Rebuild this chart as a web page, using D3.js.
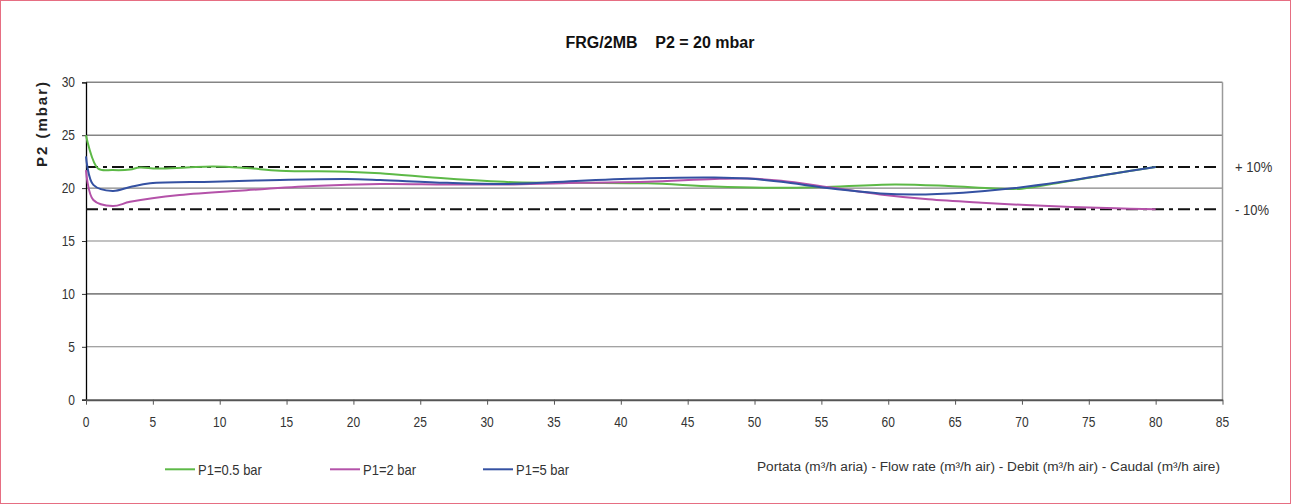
<!DOCTYPE html>
<html><head><meta charset="utf-8">
<script src="https://cdn.jsdelivr.net/npm/d3@7"></script>
<style>body{margin:0;background:#fff;} svg{display:block;font-family:"Liberation Sans",Arial,sans-serif;}</style>
</head><body><svg id="c" width="1291" height="504"></svg>
<script>
// ---- data ----
const chartTitle = "FRG/2MB    P2 = 20 mbar";
const yTitle = "P2 (mbar)";
const xTitle = "Portata (m³/h aria) - Flow rate (m³/h air) - Debit (m³/h air) - Caudal (m³/h aire)";
const xTicks = [0,5,10,15,20,25,30,35,40,45,50,55,60,65,70,75,80,85];
const yTicks = [0,5,10,15,20,25,30];
const seriesNames = ["P1=0.5 bar","P1=2 bar","P1=5 bar"];

const flow05 = [0,0.9,2,3.3,4,5.3,7.5,9.5,12,14.5,19.5,22,27,32,37,42,47,52,55,60.5,64.5,68,70,73,77,80];
const p2_05  = [25,21.85,21.7,21.75,21.95,21.85,21.95,22.05,21.9,21.65,21.55,21.4,20.9,20.55,20.5,20.45,20.15,20.03,20.1,20.35,20.2,19.97,19.95,20.55,21.4,22.0];

const flow2 = [0,0.55,2,3.3,7,12,17,22,27,32,37,42,47,49.5,52,55.6,59.4,63,67,72,77,80];
const p2_2  = [21.7,18.87,18.3,18.7,19.35,19.8,20.2,20.39,20.35,20.35,20.5,20.6,20.86,20.9,20.7,20.07,19.4,18.94,18.62,18.3,18.09,18.0];

const flow5 = [0,0.55,2,3.3,4.8,9.5,14.5,19.5,22,27,32,37,42,47,49.5,52,55.6,59.4,62,65.6,69.3,73,77,80];
const p2_5  = [23.0,20.3,19.73,20.1,20.45,20.6,20.77,20.86,20.77,20.5,20.4,20.7,20.93,21.0,20.9,20.6,19.98,19.5,19.4,19.57,19.98,20.6,21.4,22.0];

const tolValues = [22, 18];
const tolLabels = ["+ 10%", "- 10%"];

// ---- drawing ----
const svg = d3.select("#c");
const colors = ["#5DB947","#B452A9","#3451A2"];
const series = [
  {name: seriesNames[0], xs: flow05, ys: p2_05},
  {name: seriesNames[1], xs: flow2, ys: p2_2},
  {name: seriesNames[2], xs: flow5, ys: p2_5}
];

const x = d3.scaleLinear().domain([0,85]).range([86,1222.5]);
const y = d3.scaleLinear().domain([0,30]).range([399.7,82.3]);

// outer border
svg.append("rect").attr("x",0.5).attr("y",0.5).attr("width",1290).attr("height",503)
  .attr("fill","none").attr("stroke","#E66E82").attr("stroke-width",1);

function stxt(x0, y0, s, size, anchor, sy) {
  return svg.append("text")
    .attr("transform", `translate(${x0},${y0}) scale(1,${sy||1.15})`)
    .attr("text-anchor", anchor || "start")
    .attr("font-size", size)
    .attr("fill", "#333")
    .text(s);
}

// gridlines
svg.append("g").selectAll("line").data(yTicks.filter(v => v > 0)).join("line")
  .attr("x1", x(0)).attr("x2", x(85))
  .attr("y1", d => y(d)).attr("y2", d => y(d))
  .attr("stroke", "#858585")
  .attr("stroke-width", d => (d === 30 || d === 25 || d === 10) ? 1.6 : 1.1);

// right frame line
svg.append("line").attr("x1", x(85)).attr("x2", x(85)).attr("y1", y(30)).attr("y2", y(0))
  .attr("stroke", "#9a9a9a").attr("stroke-width", 1.5);

// y axis
const yAxis = d3.axisLeft(y).tickValues(yTicks).tickSize(4).tickFormat("");
const gy = svg.append("g").attr("transform", `translate(${x(0)},0)`).call(yAxis);
gy.select(".domain").attr("stroke", "#000").attr("stroke-width", 1.3);
gy.selectAll(".tick line").attr("stroke", "#333");
yTicks.forEach(v => stxt(75, y(v) + 5, String(v), 12, "end"));

// x axis
const xAxis = d3.axisBottom(x).tickValues(xTicks).tickSize(5).tickSizeOuter(0).tickFormat("");
const gx = svg.append("g").attr("transform", `translate(0,${y(0)})`).call(xAxis);
gx.select(".domain").attr("stroke", "#555").attr("stroke-width", 2);
gx.selectAll(".tick line").attr("stroke", "#555");
xTicks.forEach(v => stxt(x(v), 427, String(v), 12, "middle"));

// tolerance lines
tolValues.forEach((v, i) => {
  svg.append("line").attr("x1", x(0)).attr("x2", 1218).attr("y1", y(v)).attr("y2", y(v))
    .attr("stroke", "#111").attr("stroke-width", 2).attr("stroke-dasharray", "12,5,4,5");
  stxt(1235, y(v) + 5.5, tolLabels[i], 13, "start");
});

// series lines
const line = d3.line().curve(d3.curveCatmullRom.alpha(0.5));
series.forEach((s, i) => {
  const pts = s.xs.map((fx, j) => [x(fx), y(s.ys[j])]);
  svg.append("path").attr("d", line(pts)).attr("fill", "none")
    .attr("stroke", colors[i]).attr("stroke-width", 2).attr("stroke-linejoin", "round");
});

// title
svg.append("text").attr("x", 660).attr("y", 48.3).attr("text-anchor", "middle")
  .attr("font-size", 16).attr("font-weight", "bold").attr("fill", "#111")
  .style("white-space", "pre").attr("xml:space", "preserve").text(chartTitle);

// y title
svg.append("text").attr("transform", "translate(47,124.5) rotate(-90)")
  .attr("text-anchor", "middle").attr("font-size", 15).attr("font-weight", "bold").attr("fill", "#222")
  .attr("textLength", 85).attr("lengthAdjust", "spacing").text(yTitle);

// legend
const legX = [165, 330, 483];
series.forEach((s, i) => {
  svg.append("line").attr("x1", legX[i]).attr("x2", legX[i] + 30).attr("y1", 469.3).attr("y2", 469.3)
    .attr("stroke", colors[i]).attr("stroke-width", 2);
  stxt(legX[i] + 33, 475, s.name, 13, "start");
});

// x title
svg.append("text").attr("transform", "translate(757,470.7) scale(1,1.15)")
  .attr("font-size", 11).attr("fill", "#333")
  .attr("textLength", 463).attr("lengthAdjust", "spacingAndGlyphs").text(xTitle);
</script>
</body></html>
